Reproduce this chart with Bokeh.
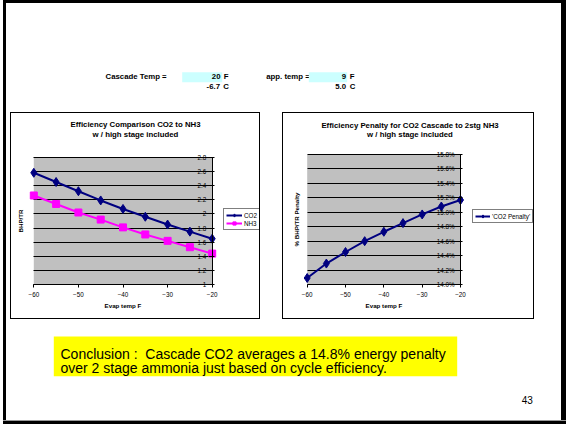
from bokeh.plotting import figure
from bokeh.layouts import column, row
from bokeh.models import (Range1d, FixedTicker, LinearAxis, Label, Legend, LegendItem,
                          PrintfTickFormatter, Spacer, BoxAnnotation)
from bokeh.core.properties import value
from bokeh.embed import file_html
from bokeh.resources import INLINE

FONT = "Liberation Sans"

# ---------------- data ----------------
evap_temp_F = [-60, -55, -50, -45, -40, -35, -30, -25, -20]
co2_bhp_tr = [2.58, 2.45, 2.32, 2.19, 2.07, 1.96, 1.85, 1.75, 1.65]
nh3_bhp_tr = [2.26, 2.14, 2.02, 1.92, 1.81, 1.71, 1.62, 1.53, 1.44]
co2_penalty_pct = [14.09, 14.29, 14.45, 14.60, 14.73, 14.85, 14.97, 15.08, 15.17]

x_ticks = [-60, -50, -40, -30, -20]
y1_ticks = [1.0, 1.2, 1.4, 1.6, 1.8, 2.0, 2.2, 2.4, 2.6, 2.8]
y2_ticks = [14.0, 14.2, 14.4, 14.6, 14.8, 15.0, 15.2, 15.4, 15.6, 15.8]

cascade_temp_F = 20
approach_temp_F = 9

chart1_title = ["Efficiency Comparison CO2 to NH3", "w / high stage included"]
chart2_title = ["Efficiency Penalty for CO2 Cascade to 2stg NH3", "w / high stage included"]
conclusion_lines = ["Conclusion :  Cascade CO2 averages a 14.8% energy penalty",
                    "over 2 stage ammonia just based on cycle efficiency."]
slide_number = "43"

NAVY = "#000080"
MAGENTA = "#FF00FF"
GRAY = "#C0C0C0"


def strip(w, h, color="#000000"):
    return Spacer(width=w, height=h, styles={"background-color": color})


def boxed(fig, w, h):
    return column(strip(w + 2, 1),
                  row(strip(1, h), fig, strip(1, h)),
                  strip(w + 2, 1))


def make_chart(fig_box, plot_box, x_lim, y_lim, y_ticks, y_fmt, title, title_xy,
               y_label, y_label_standoff, series, legend_xy, glyph_w):
    fx0, fy0, fx1, fy1 = fig_box
    px0, py0, px1, py1 = plot_box
    sx = (px1 - px0) / (x_lim[1] - x_lim[0])
    sy = (py1 - py0) / (y_lim[1] - y_lim[0])
    xr = Range1d(x_lim[0] - (px0 - fx0) / sx, x_lim[1] + (fx1 - px1) / sx)
    yr = Range1d(y_lim[0] - (fy1 - py1) / sy, y_lim[1] + (py0 - fy0) / sy)

    p = figure(width=fx1 - fx0, height=fy1 - fy0, x_range=xr, y_range=yr,
               output_backend="svg", toolbar_location=None, min_border=0)
    p.title.visible = False
    p.background_fill_color = "white"
    p.border_fill_color = "white"
    p.outline_line_color = None

    p.add_layout(BoxAnnotation(left=x_lim[0], right=x_lim[1], bottom=y_lim[0], top=y_lim[1],
                               fill_color=GRAY, fill_alpha=1, line_color=None,
                               level="image"))

    p.xgrid.visible = False
    p.ygrid.grid_line_color = "black"
    p.ygrid.grid_line_width = 1
    p.ygrid.cross_bounds = x_lim

    xa = p.xaxis[0]
    xa.fixed_location = y_lim[0]
    xa.bounds = x_lim
    xa.ticker = FixedTicker(ticks=x_ticks)
    xa.axis_line_color = "black"
    xa.major_tick_line_color = "black"
    xa.major_tick_out = 3
    xa.major_tick_in = 0
    xa.minor_tick_line_color = None
    xa.major_label_text_font = FONT
    xa.major_label_text_font_size = "6.3px"
    xa.major_label_text_color = "black"
    xa.major_label_standoff = 4
    xa.axis_label = "Evap temp F"
    xa.axis_label_text_font = FONT
    xa.axis_label_text_font_style = "bold"
    xa.axis_label_text_font_size = "6.2px"
    xa.axis_label_text_color = "black"
    xa.axis_label_standoff = 2

    ya = p.yaxis[0]
    ya.fixed_location = x_lim[1]
    ya.bounds = y_lim
    ya.ticker = FixedTicker(ticks=y_ticks)
    ya.formatter = PrintfTickFormatter(format=y_fmt)
    ya.axis_line_color = "black"
    ya.major_tick_line_color = "black"
    ya.major_tick_out = 4
    ya.major_tick_in = 2
    ya.minor_tick_line_color = None
    ya.major_label_text_font = FONT
    ya.major_label_text_font_size = "6.3px"
    ya.major_label_text_color = "black"
    ya.major_label_standoff = 2

    lab = LinearAxis(axis_label=y_label, ticker=FixedTicker(ticks=[]),
                     fixed_location=x_lim[0], bounds=y_lim,
                     axis_line_color=None, major_tick_line_color=None,
                     minor_tick_line_color=None, major_tick_out=0, major_tick_in=0,
                     axis_label_text_font=FONT, axis_label_text_font_style="bold",
                     axis_label_text_font_size="6.2px", axis_label_text_color="black",
                     axis_label_standoff=y_label_standoff)
    p.add_layout(lab, "left")

    items = []
    for name, ys, color, marker, size in series:
        r1 = p.line(evap_temp_F, ys, line_color=color, line_width=2)
        r2 = p.scatter(evap_temp_F, ys, marker=marker, size=size, fill_color=color,
                       line_color=color)
        items.append(LegendItem(label=name, renderers=[r1, r2]))

    leg = Legend(items=items, location=legend_xy, margin=0, padding=2, spacing=0,
                 border_line_color="black", border_line_width=1,
                 background_fill_color="white", background_fill_alpha=1,
                 label_text_font=FONT, label_text_font_size="6.3px",
                 label_text_color="black",
                 label_standoff=2, label_height=8, glyph_height=8, glyph_width=glyph_w)
    p.add_layout(leg)

    tx, ty1, ty2 = title_xy
    for line, ty in zip(title, (ty1, ty2)):
        p.add_layout(Label(x=tx, y=ty, x_units="screen", y_units="screen",
                           text=line, text_align="center", text_baseline="middle",
                           text_font=FONT, text_font_style="bold",
                           text_font_size="7.8px", text_color="black"))
    return p


# chart boxes in page pixels: canvas (x0, y0, x1, y1) and grey plot area
chart1 = make_chart((11, 113, 259, 318), (33.3, 156.7, 211.7, 284.3), (-60, -20), (1.0, 2.8),
                    y1_ticks, "%g", chart1_title, (124, 194, 184.5), "BHP/TR", 10,
                    [("CO2", co2_bhp_tr, NAVY, "diamond", 9),
                     ("NH3", nh3_bhp_tr, MAGENTA, "square", 7)],
                    (212, 88), 16)

chart2 = make_chart((283, 113, 533, 318), (306.7, 154, 460, 284), (-60, -20), (14.0, 15.8),
                    y2_ticks, "%.1f%%", chart2_title, (126.5, 193, 183.7),
                    "% BHP/TR Penalty", 8,
                    [("'CO2 Penalty'", co2_penalty_pct, NAVY, "diamond", 9)],
                    (189, 95), 15)

# ---------------- header ----------------
header = figure(width=555, height=109, x_range=Range1d(0, 555), y_range=Range1d(109, 0),
                output_backend="svg", toolbar_location=None, x_axis_type=None,
                y_axis_type=None, min_border=0)
header.title.visible = False
header.outline_line_color = None
header.xgrid.visible = False
header.ygrid.visible = False

cascade_C = (cascade_temp_F - 32) * 5 / 9
approach_C = approach_temp_F * 5 / 9

hdr_kw = dict(text_font=value(FONT), text_font_style="bold", text_font_size="7.8px",
              text_baseline="middle", text_color="black")
header.text(x=[99, 259.7], y=[73, 73], text=["Cascade Temp =", "app. temp ="],
            text_align="left", **hdr_kw)
header.quad(left=[175.7, 302.3], right=[215.7, 340.7], top=[68.7, 68.7],
            bottom=[78.7, 78.7], fill_color="#CCFFFF", line_color=None)
header.text(x=[214, 213.5, 339.5, 339.5], y=[73, 83, 73, 83],
            text=[f"{cascade_temp_F}", f"{cascade_C:.1f}", f"{approach_temp_F}",
                  f"{approach_C:.1f}"], text_align="right", **hdr_kw)
header.text(x=[217.3, 216.7, 343.3, 343.3], y=[73, 83, 73, 83], text=["F", "C", "F", "C"],
            text_align="left", **hdr_kw)

# ---------------- footer ----------------
footer = figure(width=555, height=101, x_range=Range1d(0, 555), y_range=Range1d(101, 0),
                output_backend="svg", toolbar_location=None, x_axis_type=None,
                y_axis_type=None, min_border=0)
footer.title.visible = False
footer.outline_line_color = None
footer.xgrid.visible = False
footer.ygrid.visible = False
footer.quad(left=[47.3], right=[450.7], top=[17], bottom=[56.7], fill_color="#FFFF00",
            line_color=None)
# keep the double space after the colon visible (SVG collapses plain spaces)
shown_lines = [s.replace("  ", "\u00a0 ") for s in conclusion_lines]
footer.text(x=[54, 54], y=[34.3, 48.3], text=shown_lines, text_align="left",
            text_baseline="alphabetic", text_font=value(FONT), text_font_size="14px",
            text_color="black")
footer.text(x=[526.3], y=[80], text=[slide_number], text_align="right",
            text_baseline="alphabetic", text_font=value(FONT), text_font_size="10px",
            text_color="black")

# ---------------- slide layout ----------------
middle = row(Spacer(width=4, height=207), boxed(chart1, 248, 205), Spacer(width=22, height=207),
             boxed(chart2, 250, 205), Spacer(width=27, height=207))
inner = column(header, middle, footer)
slide = column(row(strip(3, 3, "#FFFFFF"), strip(563, 3)),
               row(strip(3, 417, "#FFFFFF"), strip(3, 417), inner, strip(5, 417)),
               row(strip(3, 1, "#FFFFFF"), strip(563, 1, "#999999")),
               row(strip(3, 3, "#FFFFFF"), strip(563, 3)))

open("out.html", "w").write(file_html(slide, INLINE))
